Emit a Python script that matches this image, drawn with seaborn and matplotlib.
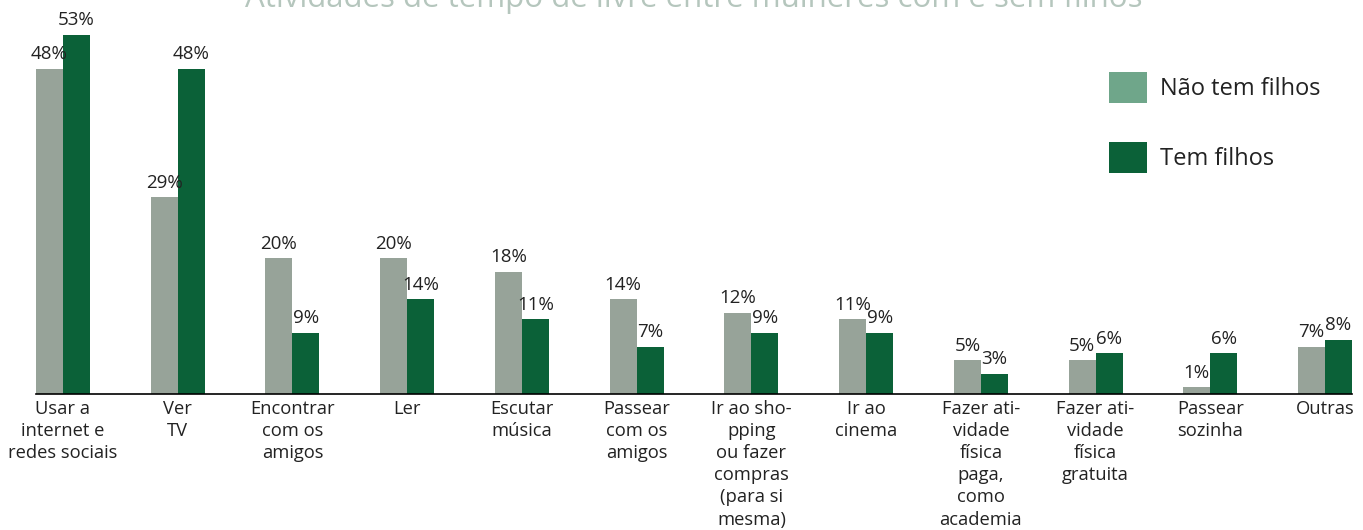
import matplotlib
matplotlib.use("Agg")
import matplotlib.pyplot as plt
import seaborn as sns
import pandas as pd
from matplotlib.patches import Patch

# ---- data ----
categories = [
    "Usar a\ninternet e\nredes sociais",
    "Ver\nTV",
    "Encontrar\ncom os\namigos",
    "Ler",
    "Escutar\nmúsica",
    "Passear\ncom os\namigos",
    "Ir ao sho-\npping\nou fazer\ncompras\n(para si\nmesma)",
    "Ir ao\ncinema",
    "Fazer ati-\nvidade\nfísica\npaga,\ncomo\nacademia",
    "Fazer ati-\nvidade\nfísica\ngratuita",
    "Passear\nsozinha",
    "Outras",
]
series_names = ["Não tem filhos", "Tem filhos"]
nao_tem_filhos = [48, 29, 20, 20, 18, 14, 12, 11, 5, 5, 1, 7]
tem_filhos = [53, 48, 9, 14, 11, 7, 9, 9, 3, 6, 6, 8]
title = "Atividades de tempo de livre entre mulheres com e sem filhos"

# ---- style ----
sns.set_theme(style="white")
plt.rcParams["font.family"] = ["Open Sans", "DejaVu Sans"]

bar_colors = {"Não tem filhos": "#97a399", "Tem filhos": "#0b6138"}
legend_colors = {"Não tem filhos": "#6fa68a", "Tem filhos": "#0b6138"}
text_color = "#222222"

df = pd.DataFrame({
    "cat": categories * 2,
    "serie": [series_names[0]] * len(categories) + [series_names[1]] * len(categories),
    "valor": nao_tem_filhos + tem_filhos,
})

fig = plt.figure(figsize=(13.63, 5.30), dpi=100)
ax = fig.add_axes([36 / 1363, 1 - 394 / 530, (1352 - 36) / 1363, 394 / 530])

sns.barplot(data=df, x="cat", y="valor", hue="serie", hue_order=series_names,
            palette=bar_colors, width=0.47, gap=0, ax=ax, legend=False,
            saturation=1, errorbar=None, linewidth=0)

ax.set_xlim(-0.235, len(categories) - 1 + 0.235)
ax.set_ylim(0, 394 / 6.78)

for container in ax.containers:
    ax.bar_label(container, labels=[f"{v:.0f}%" for v in container.datavalues],
                 padding=4, fontsize=13.5, color=text_color)

ax.set_xlabel("")
ax.set_ylabel("")
ax.set_yticks([])
ax.tick_params(axis="x", length=0, pad=4, labelsize=13.2, labelcolor=text_color)
for lbl in ax.get_xticklabels():
    lbl.set_linespacing(1.3)
for s in ["top", "right", "left"]:
    ax.spines[s].set_visible(False)
ax.spines["bottom"].set_color("#000000")
ax.spines["bottom"].set_linewidth(1.2)

handles = [Patch(facecolor=legend_colors[n], edgecolor="none", label=n) for n in series_names]
fs = 17
pxpt = fs * 100 / 72
eff = 31 / pxpt
hh = (eff - 0.245) / 0.65
row_px = hh * pxpt
fig.legend(handles=handles, loc="upper left",
           bbox_to_anchor=(1109 / 1363, 1 - 72 / 530),
           frameon=False, fontsize=fs, borderpad=0, borderaxespad=0,
           handlelength=38 / pxpt, handleheight=hh,
           handletextpad=13 / pxpt, labelspacing=(78 - row_px) / pxpt,
           labelcolor=text_color)

fig.text(694 / 1363, 1 - 6.5 / 530, title, ha="center", va="baseline",
         fontsize=22.5, color="#b5c6bd")

fig.savefig("out.png", dpi=100)
